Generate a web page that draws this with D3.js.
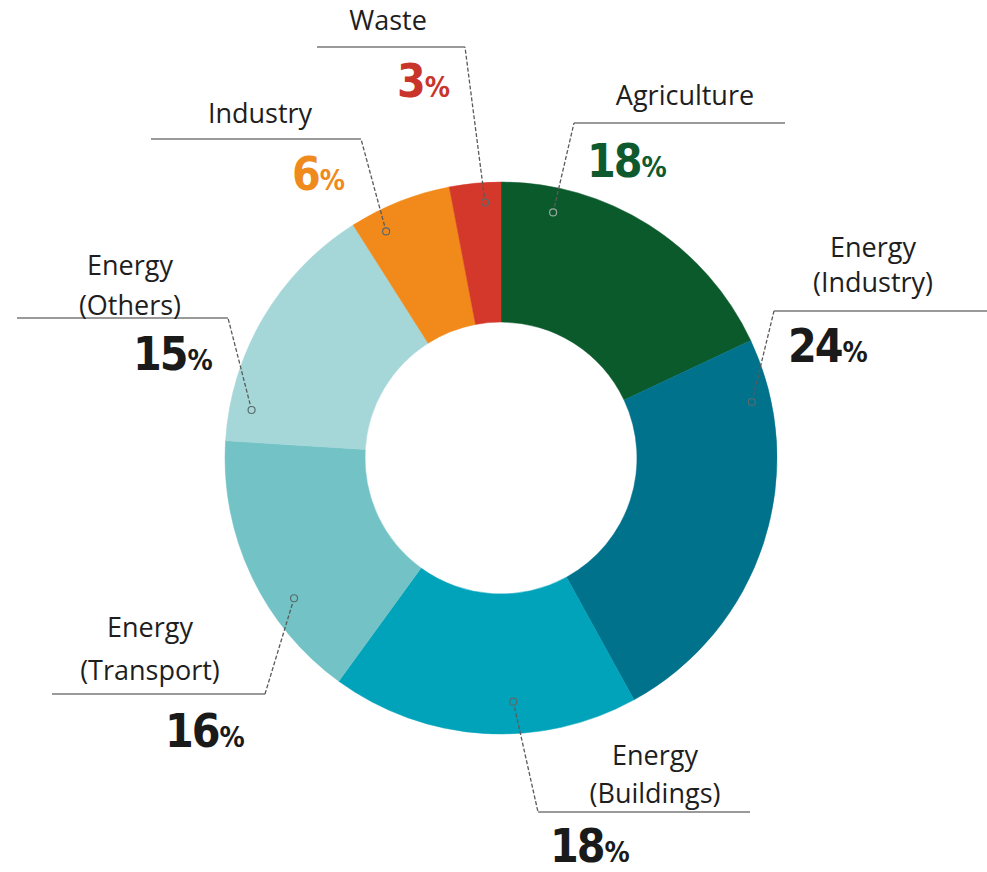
<!DOCTYPE html>
<html>
<head>
<meta charset="utf-8">
<script src="https://cdn.jsdelivr.net/npm/d3@7"></script>
<style>
  html, body { margin: 0; padding: 0; background: #fff; }
  svg { display: block; }
</style>
</head>
<body>
<svg id="chart" width="987" height="872"></svg>
<script>
// Emission shares by sector (percent), clockwise from 12 o'clock
const categories = ["Agriculture", "Energy (Industry)", "Energy (Buildings)", "Energy (Transport)", "Energy (Others)", "Industry", "Waste"];
const shares = [18, 24, 18, 16, 15, 6, 3];
const labelLines = [["Agriculture"], ["Energy", "(Industry)"], ["Energy", "(Buildings)"], ["Energy", "(Transport)"], ["Energy", "(Others)"], ["Industry"], ["Waste"]];
const sliceColors = ["#0b5a2c", "#00728b", "#00a3ba", "#73c3c6", "#a6d7d8", "#f28a1b", "#d4382a"];
const valueColors = ["#0e5a2e", "#1a1a1a", "#1a1a1a", "#1a1a1a", "#1a1a1a", "#ef8a1d", "#c9352a"];

// Callout layout: anchor position inside the slice, leader elbow, rule end and text placement
const callouts = [
  { frac: 0.185, r: 251, elbow: [574, 123], ruleTo: 785, textX: 685, textY: [105],      pctX: 587, pctY: 177 },
  { frac: 0.146, r: 257, elbow: [774, 311], ruleTo: 987, textX: 873, textY: [257, 292], pctX: 788, pctY: 362 },
  { frac: 0.400, r: 244, elbow: [538, 812], ruleTo: 750, textX: 655, textY: [765, 803], pctX: 550, pctY: 862 },
  { frac: 0.345, r: 250, elbow: [265, 694], ruleTo: 52,  textX: 150, textY: [637, 680], pctX: 165, pctY: 747 },
  { frac: 0.135, r: 254, elbow: [228, 318], ruleTo: 17,  textX: 130, textY: [275, 315], pctX: 133, pctY: 370 },
  { frac: 0.255, r: 254, elbow: [361, 139], ruleTo: 151, textX: 260, textY: [123],      pctX: 292, pctY: 190 },
  { frac: 0.670, r: 256, elbow: [465, 47],  ruleTo: 317, textX: 388, textY: [30],       pctX: 397, pctY: 97 }
];

const cx = 501, cy = 458;
const innerR = 136, outerR = 276;

const svg = d3.select("#chart");

const pie = d3.pie().sort(null).value(d => d).startAngle(0).endAngle(2 * Math.PI);
const arcs = pie(shares);
const arc = d3.arc().innerRadius(innerR).outerRadius(outerR);

const ring = svg.append("g").attr("transform", `translate(${cx},${cy})`);
ring.selectAll("path.slice")
  .data(arcs)
  .join("path")
  .attr("class", "slice")
  .attr("d", arc)
  .attr("fill", (d, i) => sliceColors[i])
  .attr("stroke", (d, i) => sliceColors[i])
  .attr("stroke-width", 0.5);

// Callouts
const callG = svg.append("g");
arcs.forEach((a, i) => {
  const c = callouts[i];
  const ang = a.startAngle + c.frac * (a.endAngle - a.startAngle);
  const [px, py] = d3.pointRadial(ang, c.r);
  const dot = [cx + px, cy + py];

  const g = callG.append("g");
  // horizontal rule
  g.append("line")
    .attr("x1", c.elbow[0]).attr("y1", c.elbow[1])
    .attr("x2", c.ruleTo).attr("y2", c.elbow[1])
    .attr("stroke", "#9a9a9a").attr("stroke-width", 2);
  // dashed leader
  g.append("line")
    .attr("x1", dot[0]).attr("y1", dot[1])
    .attr("x2", c.elbow[0]).attr("y2", c.elbow[1])
    .attr("stroke", "#5a5a5a").attr("stroke-width", 1.3)
    .attr("stroke-dasharray", "4,2");
  // anchor ring
  g.append("circle")
    .attr("cx", dot[0]).attr("cy", dot[1]).attr("r", 3.5)
    .attr("fill", sliceColors[i])
    .attr("stroke", i === 0 ? "#9aa8a0" : "#5a6a6c").attr("stroke-width", 1.2);

  // category name
  labelLines[i].forEach((line, k) => {
    g.append("text")
      .attr("x", c.textX).attr("y", c.textY[k])
      .attr("text-anchor", "middle")
      .attr("font-family", "'Open Sans', 'Noto Sans', sans-serif")
      .attr("font-size", 27)
      .attr("fill", "#1e1e1e")
      .text(line);
  });

  // value
  const t = g.append("text")
    .attr("x", c.pctX).attr("y", c.pctY)
    .attr("font-family", "'DejaVu Sans', sans-serif")
    .attr("font-weight", "bold")
    .attr("font-stretch", "condensed")
    .attr("font-size", 28)
    .attr("fill", valueColors[i]);
  t.append("tspan")
    .attr("font-size", 46)
    .attr("letter-spacing", -2)
    .text(shares[i]);
  t.append("tspan")
    .attr("font-size", 28)
    .attr("dx", 1)
    .text("%");
});
</script>
</body>
</html>
